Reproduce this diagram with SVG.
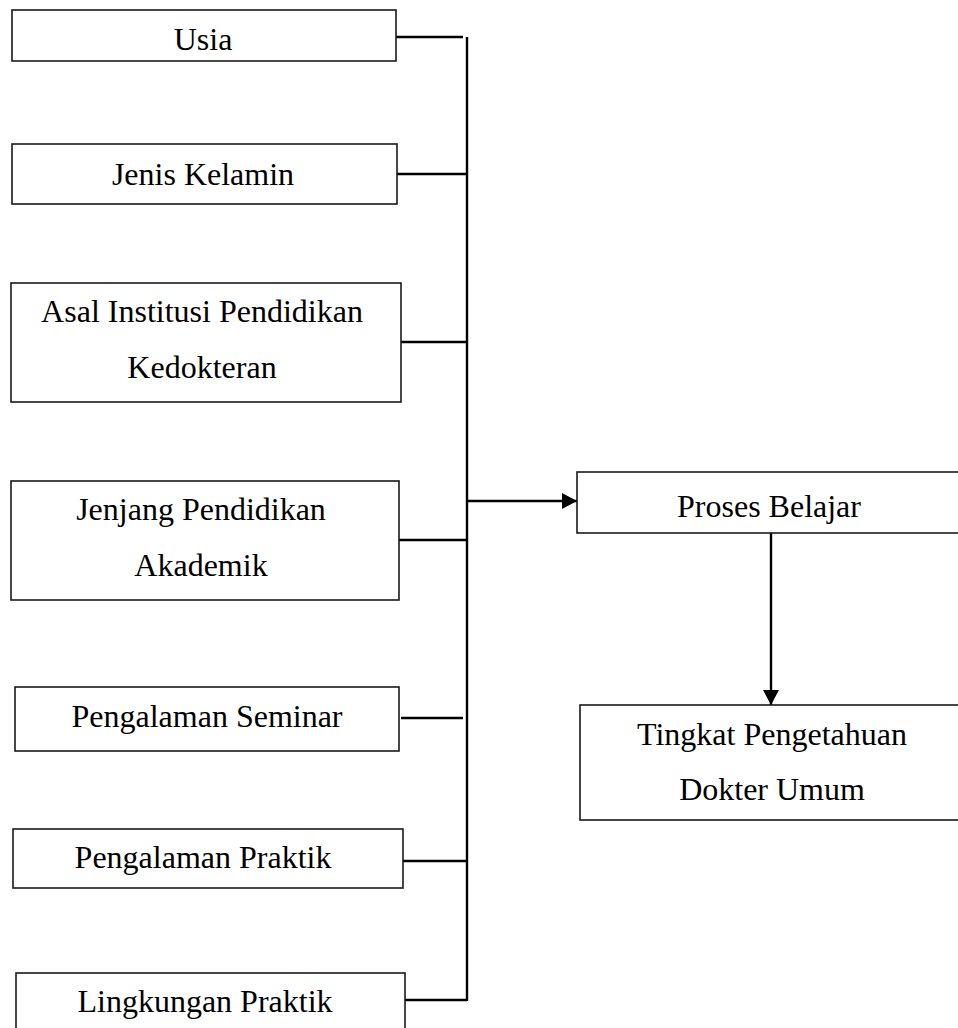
<svg xmlns="http://www.w3.org/2000/svg" width="958" height="1028" viewBox="0 0 958 1028">
<style>
.box{fill:#fff;stroke:#1a1a1a;stroke-width:1.6}
.t{font-family:"Liberation Serif","Times New Roman",serif;font-size:32px;fill:#000;text-anchor:middle}
.c{stroke:#000;stroke-width:2.4;fill:none}
</style>
<defs>
<marker id="ah" viewBox="0 0 10 10" refX="10" refY="5" markerWidth="15" markerHeight="16" markerUnits="userSpaceOnUse" orient="auto" preserveAspectRatio="none">
<path d="M0,0 L10,5 L0,10 Z" fill="#000"/>
</marker>
</defs>
<rect width="958" height="1028" fill="#fff"/>
<g id="connectors">
<line class="c" x1="396" y1="37" x2="463" y2="37"/>
<line class="c" x1="397" y1="174" x2="467" y2="174"/>
<line class="c" x1="401" y1="342" x2="467" y2="342"/>
<line class="c" x1="399" y1="540" x2="467" y2="540"/>
<line class="c" x1="401" y1="718" x2="463" y2="718"/>
<line class="c" x1="403" y1="861" x2="467" y2="861"/>
<line class="c" x1="405" y1="1000" x2="467" y2="1000"/>
<line class="c" x1="467" y1="37" x2="467" y2="1001"/>
<line class="c" x1="467" y1="501" x2="577" y2="501" marker-end="url(#ah)"/>
<line class="c" x1="771" y1="533" x2="771" y2="705" marker-end="url(#ah)"/>
</g>
<g id="usia"><rect class="box" x="12" y="10" width="384" height="51"/><text class="t" x="203" y="50">Usia</text></g>
<g id="jenis-kelamin"><rect class="box" x="12" y="144" width="385" height="60"/><text class="t" x="203" y="185">Jenis Kelamin</text></g>
<g id="asal-institusi"><rect class="box" x="11" y="283" width="390" height="119"/><text class="t" x="202" y="322">Asal Institusi Pendidikan</text><text class="t" x="202" y="378">Kedokteran</text></g>
<g id="jenjang"><rect class="box" x="11" y="481" width="388" height="119"/><text class="t" x="201" y="520">Jenjang Pendidikan</text><text class="t" x="201" y="576">Akademik</text></g>
<g id="seminar"><rect class="box" x="15" y="687" width="384" height="64"/><text class="t" x="207" y="727">Pengalaman Seminar</text></g>
<g id="praktik"><rect class="box" x="13" y="829" width="390" height="59"/><text class="t" x="203" y="868">Pengalaman Praktik</text></g>
<g id="lingkungan"><rect class="box" x="16" y="973" width="389" height="70"/><text class="t" x="205" y="1012">Lingkungan Praktik</text></g>
<g id="proses"><rect class="box" x="577" y="472" width="390" height="61"/><text class="t" x="769" y="517">Proses Belajar</text></g>
<g id="tingkat"><rect class="box" x="580" y="705" width="390" height="115"/><text class="t" x="772" y="745">Tingkat Pengetahuan</text><text class="t" x="772" y="800">Dokter Umum</text></g>
</svg>
